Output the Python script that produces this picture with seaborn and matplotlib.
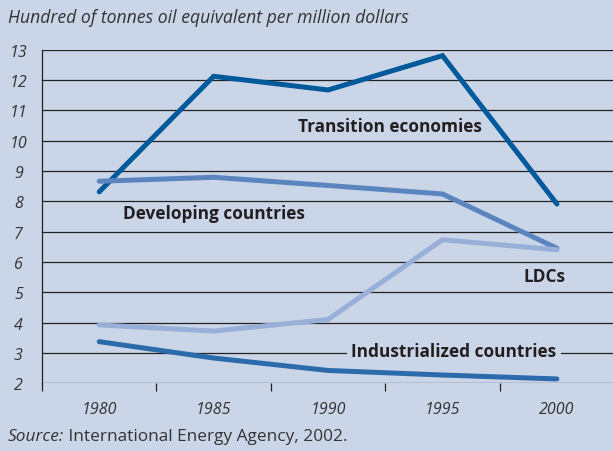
import matplotlib
matplotlib.use("Agg")
import matplotlib.pyplot as plt
import seaborn as sns
import pandas as pd

years = [1980, 1985, 1990, 1995, 2000]
transition = [8.31, 12.12, 11.67, 12.80, 7.91]
developing = [8.66, 8.79, 8.52, 8.24, 6.45]
ldcs = [3.92, 3.72, 4.10, 6.73, 6.40]
industrialized = [3.37, 2.83, 2.42, 2.27, 2.14]
series_names = ["Transition economies", "Developing countries", "LDCs", "Industrialized countries"]
y_ticks = list(range(2, 14))
x_tick_labels = ["1980", "1985", "1990", "1995", "2000"]

BG = "#cbd5e8"
colors = {"Transition economies": "#00599b",
          "Developing countries": "#5a85bf",
          "LDCs": "#98b0d8",
          "Industrialized countries": "#2b6aab"}

df = pd.concat([
    pd.DataFrame({"year": years, "value": v, "series": n})
    for n, v in zip(series_names, [transition, developing, ldcs, industrialized])
])

sns.set_theme(style="white")
plt.rcParams["font.family"] = ["Open Sans", "DejaVu Sans"]

fig = plt.figure(figsize=(6.13, 4.52), dpi=100, facecolor=BG)
ax = fig.add_axes([0.0685, 0.150, 0.9315, 0.738])
ax.set_facecolor(BG)

for y in y_ticks:
    ax.axhline(y, color="#222222", lw=0.9, zorder=1)

sns.lineplot(data=df, x="year", y="value", hue="series", hue_order=series_names,
             palette=colors, linewidth=3.6, legend=False, ax=ax, zorder=3,
             solid_capstyle="round", solid_joinstyle="miter")

ax.set_xlim(1977.5, 2002.45)
ax.set_ylim(2, 13)
ax.set_xlabel("")
ax.set_ylabel("")

for s in ["top", "right", "bottom"]:
    ax.spines[s].set_visible(False)
ax.spines["left"].set_color("#222222")
ax.spines["left"].set_linewidth(0.9)

ax.set_xticks(years)
ax.set_xticklabels(x_tick_labels, fontstyle="italic", fontsize=11.5, color="#333333")
ax.set_xticks([1977.5, 1982.5, 1987.5, 1992.5, 1997.5], minor=True)
ax.tick_params(axis="x", which="major", length=0, pad=13)
ax.tick_params(axis="x", which="minor", length=6, width=0.9, color="#222222", direction="out")
ax.xaxis.set_ticks_position("bottom")

ax.set_yticks(y_ticks)
ax.set_yticklabels([str(v) for v in y_ticks], fontstyle="italic", fontsize=11.5, color="#333333",
                   ha="center")
ax.tick_params(axis="y", length=0, pad=17)

lab = dict(fontsize=12.4, fontweight="bold", color="#231f20", ha="center", va="center", zorder=4)
ax.text(1992.7, 10.48, "Transition economies", **lab)
ax.text(1985.0, 7.62, "Developing countries", **lab)
ax.text(1999.45, 5.54, "LDCs", **lab)
ax.text(1995.5, 3.05, "Industrialized countries",
        bbox=dict(facecolor=BG, edgecolor="none", pad=3), **lab)

fig.text(0.013, 0.96, "Hundred of tonnes oil equivalent per million dollars",
         fontstyle="italic", fontsize=12.7, color="#333333", ha="left", va="center")
t1 = fig.text(0.013, 0.033, "Source:", fontstyle="italic", fontsize=12.4, color="#333333",
              ha="left", va="center")
fig.canvas.draw()
bb = t1.get_window_extent()
x_next = bb.x1 / fig.bbox.width
fig.text(x_next, 0.033, " International Energy Agency, 2002.", fontsize=12.4, color="#333333",
         ha="left", va="center")

fig.savefig("out.png", dpi=100, facecolor=BG)
